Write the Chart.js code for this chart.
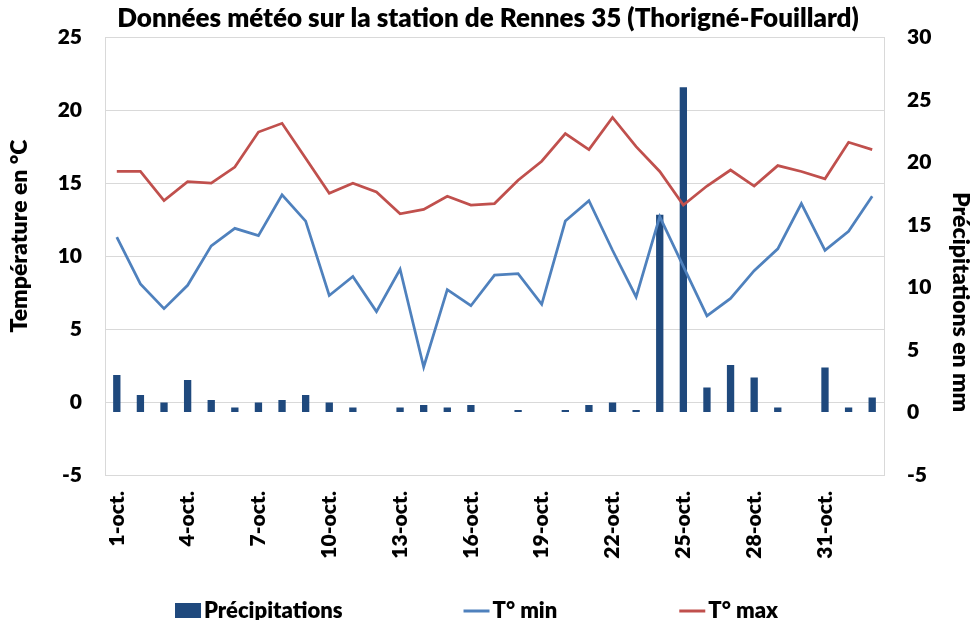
<!DOCTYPE html>
<html>
<head>
<meta charset="utf-8">
<script src="https://cdn.jsdelivr.net/npm/chart.js@4.4.0/dist/chart.umd.min.js"></script>
<style>
  html, body { margin: 0; padding: 0; background: #fff; }
</style>
</head>
<body>
<canvas id="meteo" width="976" height="620"></canvas>
<script>
// jours du mois (oct. + debut nov.)
var jours = ['1-oct.', '2-oct.', '3-oct.', '4-oct.', '5-oct.', '6-oct.', '7-oct.', '8-oct.', '9-oct.', '10-oct.',
             '11-oct.', '12-oct.', '13-oct.', '14-oct.', '15-oct.', '16-oct.', '17-oct.', '18-oct.', '19-oct.', '20-oct.',
             '21-oct.', '22-oct.', '23-oct.', '24-oct.', '25-oct.', '26-oct.', '27-oct.', '28-oct.', '29-oct.', '30-oct.',
             '31-oct.', '1-nov.', '2-nov.'];
var pluie = [3.0, 1.4, 0.8, 2.6, 1.0, 0.4, 0.8, 1.0, 1.4, 0.8,
             0.4, 0, 0.4, 0.6, 0.4, 0.6, 0, 0.2, 0, 0.2,
             0.6, 0.8, 0.2, 15.8, 26.0, 2.0, 3.8, 2.8, 0.4, 0,
             3.6, 0.4, 1.2];
var tmin = [11.3, 8.1, 6.4, 8.0, 10.7, 11.9, 11.4, 14.2, 12.4, 7.3,
            8.6, 6.2, 9.1, 2.4, 7.7, 6.6, 8.7, 8.8, 6.7, 12.4,
            13.8, 10.4, 7.2, 12.7, 9.3, 5.9, 7.1, 9.0, 10.5, 13.6,
            10.4, 11.7, 14.1];
var tmax = [15.8, 15.8, 13.8, 15.1, 15.0, 16.1, 18.5, 19.1, 16.7, 14.3,
            15.0, 14.4, 12.9, 13.2, 14.1, 13.5, 13.6, 15.2, 16.5, 18.4,
            17.3, 19.5, 17.5, 15.8, 13.5, 14.8, 15.9, 14.8, 16.2, 15.8,
            15.3, 17.8, 17.3];
var echelleTemp = [-5, 25];
var echellePluie = [-5, 30];
var pas = 5;
var titreTemp = 'Température en °C';
var titrePluie = 'Précipitations en mm';

Chart.defaults.font.family = 'Lato, Carlito, sans-serif';
Chart.defaults.color = '#000000';

var gris = '#D9D9D9';
var poids = '800';
var police = 'Lato, Carlito, sans-serif';

// titres des axes (pas centres dans l'original)
var titresAxes = {
    id: 'titresAxes',
    afterDraw: function(chart) {
        var ctx = chart.ctx;
        var area = chart.chartArea;
        var milieu = (area.top + area.bottom) / 2;
        ctx.save();
        ctx.font = poids + ' 23px ' + police;
        ctx.fillStyle = '#000';
        ctx.textAlign = 'center';
        ctx.textBaseline = 'middle';
        ctx.save();
        ctx.translate(20, milieu - 20);
        ctx.rotate(-Math.PI / 2);
        ctx.fillText(titreTemp, 0, 0);
        ctx.restore();
        ctx.save();
        ctx.translate(chart.width - 16, milieu + 46);
        ctx.rotate(Math.PI / 2);
        ctx.fillText(titrePluie, 0, 0);
        ctx.restore();
        ctx.restore();
    }
};

// legende maison en bas (espacement large comme dans Excel)
var legendeBas = {
    id: 'legendeBas',
    afterDraw: function(chart) {
        var ctx = chart.ctx;
        var ds = chart.data.datasets;
        var sym = 26, ecart = 3, gaps = [121, 122];
        ctx.save();
        ctx.font = poids + ' 22px ' + police;
        ctx.textBaseline = 'middle';
        var total = 0;
        for (var i = 0; i < ds.length; i++) {
            total += sym + ecart + ctx.measureText(ds[i].label).width;
            if (i < gaps.length) total += gaps[i];
        }
        var x = (chart.width - total) / 2 - 11.5;
        var y = 611;
        for (var i = 0; i < ds.length; i++) {
            if (ds[i].type == 'bar') {
                ctx.fillStyle = ds[i].backgroundColor;
                ctx.fillRect(x, y - 8, sym, 15);
            } else {
                ctx.strokeStyle = ds[i].borderColor;
                ctx.lineWidth = 3;
                ctx.beginPath();
                ctx.moveTo(x, y);
                ctx.lineTo(x + sym, y);
                ctx.stroke();
            }
            ctx.fillStyle = '#000';
            ctx.fillText(ds[i].label, x + sym + ecart, y);
            x += sym + ecart + ctx.measureText(ds[i].label).width + (gaps[i] || 0);
        }
        ctx.restore();
    }
};

var ctx = document.getElementById('meteo').getContext('2d');
var myChart = new Chart(ctx, {
    data: {
        labels: jours,
        datasets: [{
            type: 'bar',
            label: 'Précipitations',
            data: pluie,
            yAxisID: 'y1',
            backgroundColor: '#1F497D',
            borderWidth: 0,
            barPercentage: 0.31,
            categoryPercentage: 1,
            order: 2
        }, {
            type: 'line',
            label: 'T° min',
            data: tmin,
            yAxisID: 'y',
            borderColor: '#4F81BD',
            backgroundColor: '#4F81BD',
            borderWidth: 2.75,
            pointRadius: 0,
            tension: 0,
            order: 1
        }, {
            type: 'line',
            label: 'T° max',
            data: tmax,
            yAxisID: 'y',
            borderColor: '#C0504D',
            backgroundColor: '#C0504D',
            borderWidth: 2.75,
            pointRadius: 0,
            tension: 0,
            order: 1
        }]
    },
    options: {
        responsive: false,
        animation: false,
        layout: { padding: { left: 0, right: 0, top: 0, bottom: 30 } },
        plugins: {
            legend: { display: false },
            tooltip: { enabled: false },
            title: {
                display: true,
                text: 'Données météo sur la station de Rennes 35 (Thorigné-Fouillard)',
                font: { size: 26, weight: poids },
                color: '#000',
                padding: { top: 3, bottom: 3 }
            }
        },
        scales: {
            x: {
                offset: true,
                grid: { display: false },
                border: { display: false },
                ticks: {
                    autoSkip: false,
                    minRotation: 90,
                    maxRotation: 90,
                    padding: 8,
                    font: { size: 21, weight: poids },
                    callback: function(val, i) {
                        return i % 3 === 0 ? this.getLabelForValue(val) : '';
                    }
                },
                afterFit: function(scale) { scale.height = 115; }
            },
            y: {
                position: 'left',
                min: echelleTemp[0],
                max: echelleTemp[1],
                ticks: { stepSize: pas, padding: 23, font: { size: 21, weight: poids } },
                grid: { color: gris, lineWidth: 1, drawTicks: false },
                border: { color: gris },
                afterFit: function(scale) { scale.width = 105; }
            },
            y1: {
                position: 'right',
                min: echellePluie[0],
                max: echellePluie[1],
                ticks: { stepSize: pas, padding: 23, font: { size: 21, weight: poids } },
                grid: { drawOnChartArea: false, drawTicks: false },
                border: { color: gris },
                afterFit: function(scale) { scale.width = 92; }
            }
        }
    },
    plugins: [titresAxes, legendeBas]
});
</script>
</body>
</html>
